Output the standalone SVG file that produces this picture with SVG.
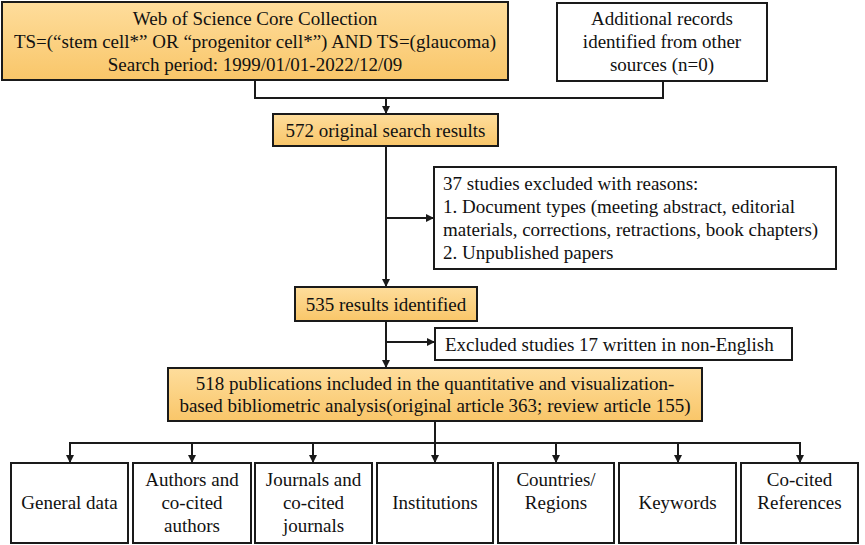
<svg xmlns="http://www.w3.org/2000/svg" width="865" height="545" viewBox="0 0 865 545">
<style>
.o{fill:url(#og);stroke:#1a1a1a;stroke-width:2}
.w{fill:#fff;stroke:#1a1a1a;stroke-width:2}
text{font-size:19px;fill:#111}
.c{text-anchor:middle}
.ln{fill:none;stroke:#1a1a1a;stroke-width:2}
.ar{fill:none;stroke:#1a1a1a;stroke-width:2;marker-end:url(#ah)}
</style>
<defs>
<linearGradient id="og" x1="0" y1="0" x2="0" y2="1">
<stop offset="0" stop-color="#FEDD9C"/>
<stop offset="1" stop-color="#F9C669"/>
</linearGradient>
<marker id="ah" viewBox="0 0 10 10" refX="10" refY="5" markerWidth="4" markerHeight="4" orient="auto" markerUnits="strokeWidth">
<path d="M0,0 L10,5 L0,10 z" fill="#1a1a1a"/>
</marker>
</defs>
<rect width="865" height="545" fill="#fff"/>
<g id="connectors">
<polyline class="ln" points="255,80 255,98 663,98 663,81"/>
<line class="ar" x1="386" y1="98" x2="386" y2="114"/>
<line class="ar" x1="386" y1="146" x2="386" y2="287"/>
<line class="ar" x1="386" y1="218" x2="434" y2="218"/>
<line class="ar" x1="386" y1="321" x2="386" y2="368"/>
<line class="ar" x1="386" y1="342" x2="435" y2="342"/>
<polyline class="ln" points="435,421 435,443"/>
<line class="ln" x1="69" y1="443" x2="801" y2="443"/>
<line class="ar" x1="70" y1="442" x2="70" y2="463"/>
<line class="ar" x1="192" y1="443" x2="192" y2="463"/>
<line class="ar" x1="313" y1="443" x2="313" y2="463"/>
<line class="ar" x1="435" y1="443" x2="435" y2="463"/>
<line class="ar" x1="556" y1="443" x2="556" y2="463"/>
<line class="ar" x1="678" y1="443" x2="678" y2="463"/>
<line class="ar" x1="800" y1="442" x2="800" y2="463"/>
</g>
<g font-family="'Liberation Serif', 'Times New Roman', Times, 'DejaVu Serif', serif">
<g id="wos">
<rect class="o" x="2" y="2" width="506" height="78"/>
<text class="c" x="255" y="25">Web of Science Core Collection</text>
<text class="c" x="255" y="48">TS=(“stem cell*” OR “progenitor cell*”) AND TS=(glaucoma)</text>
<text class="c" x="255" y="71">Search period: 1999/01/01-2022/12/09</text>
</g>
<g id="additional">
<rect class="w" x="557" y="3" width="210" height="78"/>
<text class="c" x="662" y="25">Additional records</text>
<text class="c" x="662" y="48">identified from other</text>
<text class="c" x="662" y="71">sources (n=0)</text>
</g>
<g id="n572">
<rect class="o" x="273" y="114" width="225" height="32"/>
<text class="c" x="385.5" y="137">572 original search results</text>
</g>
<g id="excluded37">
<rect class="w" x="434" y="167" width="402" height="102"/>
<text x="443" y="190">37 studies excluded with reasons:</text>
<text x="443" y="213">1. Document types (meeting abstract, editorial</text>
<text x="443" y="236">materials, corrections, retractions, book chapters)</text>
<text x="443" y="259">2. Unpublished papers</text>
</g>
<g id="n535">
<rect class="o" x="295" y="287" width="182" height="34"/>
<text class="c" x="386" y="310.5">535 results identified</text>
</g>
<g id="excluded17">
<rect class="w" x="435" y="328" width="357" height="32"/>
<text x="445" y="350.5">Excluded studies 17 written in non-English</text>
</g>
<g id="n518">
<rect class="o" x="168" y="368" width="534" height="53"/>
<text class="c" x="435" y="389.5">518 publications included in the quantitative and visualization-</text>
<text class="c" x="435" y="412">based bibliometric analysis(original article 363; review article 155)</text>
</g>
<g id="general">
<rect class="w" x="11" y="463" width="117" height="80"/>
<text class="c" x="69.5" y="509">General data</text>
</g>
<g id="authors">
<rect class="w" x="133" y="463" width="118" height="80"/>
<text class="c" x="192" y="486">Authors and</text>
<text class="c" x="192" y="509">co-cited</text>
<text class="c" x="192" y="532">authors</text>
</g>
<g id="journals">
<rect class="w" x="255" y="463" width="117" height="80"/>
<text class="c" x="313.5" y="486">Journals and</text>
<text class="c" x="313.5" y="509">co-cited</text>
<text class="c" x="313.5" y="532">journals</text>
</g>
<g id="institutions">
<rect class="w" x="377" y="463" width="116" height="80"/>
<text class="c" x="435" y="509">Institutions</text>
</g>
<g id="countries">
<rect class="w" x="498" y="463" width="116" height="80"/>
<text class="c" x="556" y="486">Countries/</text>
<text class="c" x="556" y="509">Regions</text>
</g>
<g id="keywords">
<rect class="w" x="619" y="463" width="117" height="80"/>
<text class="c" x="677.5" y="509">Keywords</text>
</g>
<g id="cocited">
<rect class="w" x="741" y="463" width="117" height="80"/>
<text class="c" x="799.5" y="486">Co-cited</text>
<text class="c" x="799.5" y="509">References</text>
</g>
</g>
</svg>
